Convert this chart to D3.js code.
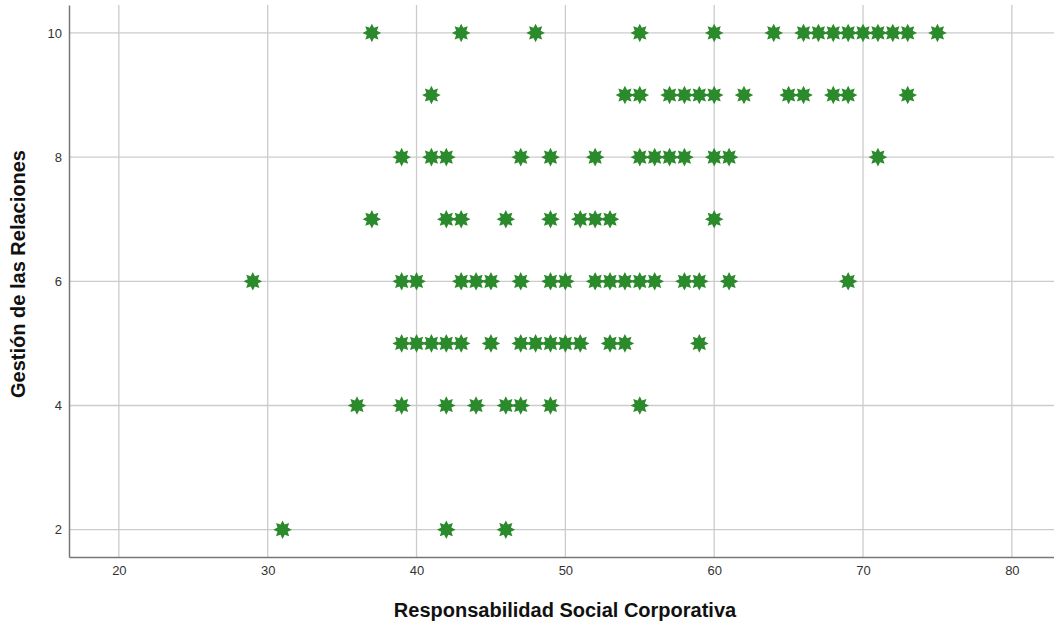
<!DOCTYPE html>
<html lang="es">
	<head>
		<meta charset="utf-8">
		<title>D3: Dispersión RSC vs Gestión de las Relaciones</title>
		<script type="text/javascript" src="https://d3js.org/d3.v7.min.js"></script>
		<style type="text/css">
			body { margin: 0; background: white; }
			text { font-family: "Liberation Sans", Arial, sans-serif; }
			.tick text { font-size: 13px; fill: #333; }
			.title { font-size: 20px; font-weight: bold; fill: #111; }
		</style>
	</head>
	<body>
		<script type="text/javascript">

			// RSC scores observed at each level of Gestión de las Relaciones
			var rscAt10 = [37, 43, 48, 55, 60, 64, 66, 67, 68, 69, 70, 71, 72, 73, 75];
			var rscAt9  = [41, 54, 55, 57, 58, 59, 60, 62, 65, 66, 68, 69, 73];
			var rscAt8  = [39, 41, 42, 47, 49, 52, 55, 56, 57, 58, 60, 61, 71];
			var rscAt7  = [37, 42, 43, 46, 49, 51, 52, 53, 60];
			var rscAt6  = [29, 39, 40, 43, 44, 45, 47, 49, 50, 52, 53, 54, 55, 56, 58, 59, 61, 69];
			var rscAt5  = [39, 40, 41, 42, 43, 45, 47, 48, 49, 50, 51, 53, 54, 59];
			var rscAt4  = [36, 39, 42, 44, 46, 47, 49, 55];
			var rscAt2  = [31, 42, 46];

			var gestionLevels = [10, 9, 8, 7, 6, 5, 4, 2];
			var rscLists = [rscAt10, rscAt9, rscAt8, rscAt7, rscAt6, rscAt5, rscAt4, rscAt2];

			var xTicks = [20, 30, 40, 50, 60, 70, 80];
			var yTicks = [2, 4, 6, 8, 10];

			var points = [];
			rscLists.forEach(function(list, i){
				list.forEach(function(v){
					points.push({x: v, y: gestionLevels[i]});
				});
			});

			//Width and height
			var w = 1054;
			var h = 622;
			var margin = {top: 5, right: 0, bottom: 65, left: 69};

			var xScale = d3.scaleLinear()
						.domain([16.65, 82.83])
						.range([margin.left, w - margin.right]);
			var yScale = d3.scaleLinear()
						.domain([1.56, 10.45])
						.range([h - margin.bottom, margin.top]);

			var svg = d3.select("body")
						.append("svg")
						.attr("width", w)
						.attr("height", h);

			//Grid lines
			svg.append("g")
				.selectAll("line")
				.data(xTicks)
				.enter()
				.append("line")
				.attr("x1", function(d){ return xScale(d); })
				.attr("x2", function(d){ return xScale(d); })
				.attr("y1", margin.top)
				.attr("y2", h - margin.bottom)
				.attr("stroke", "#cccccc")
				.attr("stroke-width", 1.3);

			svg.append("g")
				.selectAll("line")
				.data(yTicks)
				.enter()
				.append("line")
				.attr("x1", margin.left)
				.attr("x2", w - margin.right)
				.attr("y1", function(d){ return yScale(d); })
				.attr("y2", function(d){ return yScale(d); })
				.attr("stroke", "#cccccc")
				.attr("stroke-width", 1.3);

			//Axes
			var xAxis = svg.append("g")
				.attr("transform", "translate(0," + (h - margin.bottom) + ")")
				.call(d3.axisBottom(xScale).tickValues(xTicks).tickSize(0).tickPadding(9));
			var yAxis = svg.append("g")
				.attr("transform", "translate(" + margin.left + ",0)")
				.call(d3.axisLeft(yScale).tickValues(yTicks).tickSize(0).tickPadding(7));

			[xAxis, yAxis].forEach(function(a){
				a.select(".domain").attr("stroke", "#777").attr("stroke-width", 1.5);
				a.selectAll(".tick text").attr("font-family", null).attr("font-size", null);
			});

			//8-pointed star marker
			var star = d3.lineRadial()
						.angle(function(d){ return d[0]; })
						.radius(function(d){ return d[1]; })
						.curve(d3.curveLinearClosed);
			var starPts = d3.range(16).map(function(i){
				return [i * Math.PI / 8, i % 2 === 0 ? 9.3 : 5.5];
			});

			svg.append("g")
				.selectAll("path")
				.data(points)
				.enter()
				.append("path")
				.attr("transform", function(d){
					return "translate(" + xScale(d.x) + "," + yScale(d.y) + ")";
				})
				.attr("d", star(starPts))
				.attr("fill", "#2b8a2b");

			//Axis titles
			svg.append("text")
				.attr("class", "title")
				.attr("x", 565)
				.attr("y", 617)
				.attr("text-anchor", "middle")
				.text("Responsabilidad Social Corporativa");

			svg.append("text")
				.attr("class", "title")
				.attr("transform", "translate(25,274) rotate(-90)")
				.attr("text-anchor", "middle")
				.text("Gestión de las Relaciones");

		</script>
	</body>
</html>
